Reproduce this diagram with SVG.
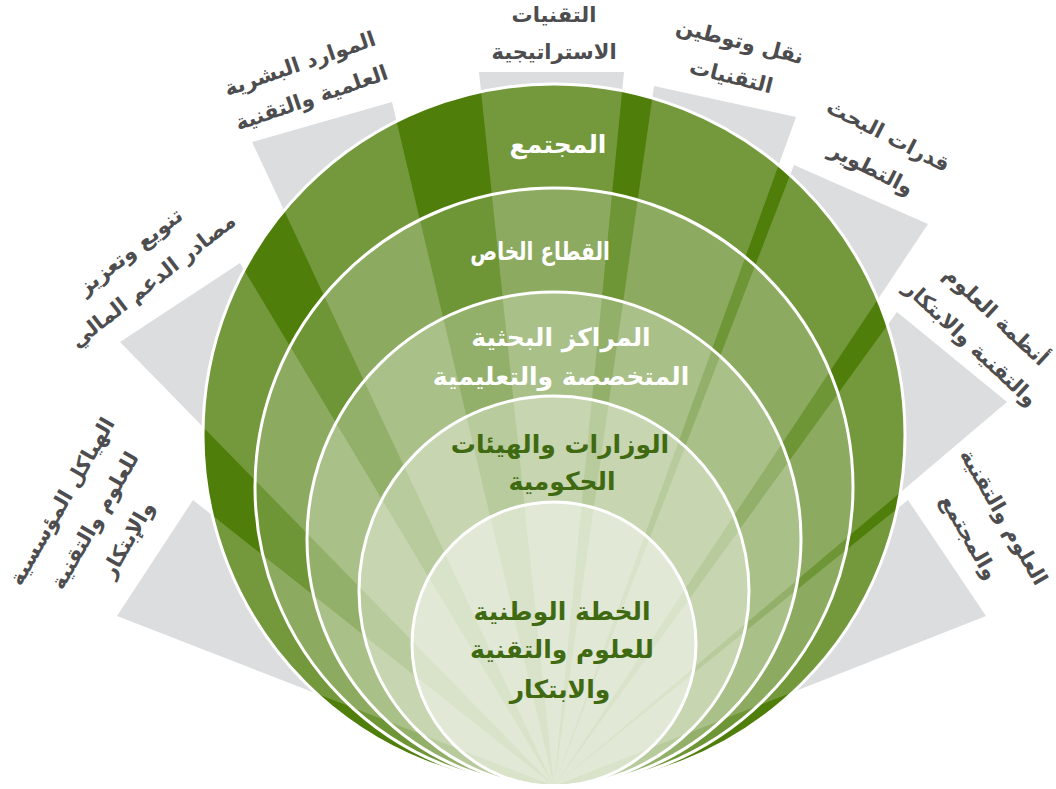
<svg xmlns="http://www.w3.org/2000/svg" width="1056" height="789" viewBox="0 0 1056 789">
<style>
.grey{fill:#dcdddf}
.ov{fill:#ffffff;fill-opacity:0.21}
.ring{fill:#ffffff;stroke:#ffffff;stroke-width:3}
.lbl{font-family:"DejaVu Sans","Noto Sans",sans-serif;font-size:21px;font-weight:bold;fill:#4d4d4f;text-anchor:middle}
.in{font-family:"DejaVu Sans","Noto Sans",sans-serif;font-size:25px;font-weight:bold;text-anchor:middle}
.w{fill:#ffffff}
.g{fill:#3f6a12}
</style>
<defs>
<clipPath id="clipOuter"><circle cx="554" cy="435" r="351"/></clipPath>
<polygon id="wL2" points="554,786 193,500 117,616"/>
<polygon id="wL1" points="554,786 240,263 120,342"/>
<polygon id="w1" points="554,786 252,142 392,102"/>
<polygon id="w2" points="554,786 479,72 624,72"/>
<polygon id="w3" points="554,786 654,86 796,117"/>
<polygon id="w4" points="554,786 794,165 928,224"/>
<polygon id="w5" points="554,786 897,312 1007,402"/>
<polygon id="w6" points="554,786 908,500 986,616"/>
</defs>

<g id="connectors">
<g id="grey-rays">
<use href="#wL2" class="grey"/>
<use href="#wL1" class="grey"/>
<use href="#w1" class="grey"/>
<use href="#w2" class="grey"/>
<use href="#w3" class="grey"/>
<use href="#w4" class="grey"/>
<use href="#w5" class="grey"/>
<use href="#w6" class="grey"/>
</g>
</g>

<g id="node-society">
<circle cx="554" cy="435" r="351" fill="#4f7e0a"/>
<g clip-path="url(#clipOuter)">
<use href="#wL2" class="ov"/>
<use href="#wL1" class="ov"/>
<use href="#w1" class="ov"/>
<use href="#w2" class="ov"/>
<use href="#w3" class="ov"/>
<use href="#w4" class="ov"/>
<use href="#w5" class="ov"/>
<use href="#w6" class="ov"/>
</g>
<circle cx="554" cy="435" r="351" fill="none" stroke="#ffffff" stroke-width="3"/>
<text class="in w" x="558" y="153">المجتمع</text>
</g>

<g id="node-private">
<circle class="ring" cx="554" cy="487" r="299" fill-opacity="0.18"/>
<text class="in w" transform="translate(540,260) scale(0.8,1)" x="0" y="0">القطاع الخاص</text>
</g>

<g id="node-research">
<circle class="ring" cx="554" cy="539" r="247" fill-opacity="0.26"/>
<text class="in w" x="561" y="346">المراكز البحثية</text>
<text class="in w" x="561" y="385">المتخصصة والتعليمية</text>
</g>

<g id="node-ministries">
<circle class="ring" cx="554" cy="591" r="195" fill-opacity="0.34"/>
<text class="in g" x="560" y="453">الوزارات والهيئات</text>
<text class="in g" x="562" y="490">الحكومية</text>
</g>

<g id="node-plan">
<circle class="ring" cx="554" cy="644" r="142" fill-opacity="0.47"/>
<text class="in g" x="562" y="620">الخطة الوطنية</text>
<text class="in g" x="562" y="658">للعلوم والتقنية</text>
<text class="in g" x="560" y="698">والابتكار</text>
</g>

<g id="label-human-resources" transform="translate(305,79) rotate(-19)">
<text class="lbl" x="0" y="-9">الموارد البشرية</text>
<text class="lbl" x="0" y="27">العلمية والتقنية</text>
</g>
<g id="label-strategic-tech" transform="translate(554,33)">
<text class="lbl" x="0" y="-11">التقنيات</text>
<text class="lbl" x="0" y="26">الاستراتيجية</text>
</g>
<g id="label-transfer" transform="translate(736,57) rotate(14)">
<text class="lbl" x="0" y="-9">نقل وتوطين</text>
<text class="lbl" x="0" y="27">التقنيات</text>
</g>
<g id="label-rnd" transform="translate(881,150) rotate(27)">
<text class="lbl" x="0" y="-9">قدرات البحث</text>
<text class="lbl" x="0" y="28">والتطوير</text>
</g>
<g id="label-systems" transform="translate(985,328) rotate(43)">
<text class="lbl" x="0" y="-9">أنظمة العلوم</text>
<text class="lbl" x="0" y="28">والتقنية والابتكار</text>
</g>
<g id="label-society" transform="translate(988,526) rotate(60)">
<text class="lbl" x="0" y="-11">العلوم والتقنية</text>
<text class="lbl" x="0" y="29">والمجتمع</text>
</g>
<g id="label-funding" transform="translate(140,264) rotate(-38)">
<text class="lbl" x="0" y="-9">تنويع وتعزيز</text>
<text class="lbl" x="0" y="28">مصادر الدعم المالي</text>
</g>
<g id="label-structures" transform="translate(94,520) rotate(-60)">
<text class="lbl" x="0" y="-30">الهياكل المؤسسية</text>
<text class="lbl" x="0" y="8">للعلوم والتقنية</text>
<text class="lbl" x="0" y="46">والإبتكار</text>
</g>
</svg>
